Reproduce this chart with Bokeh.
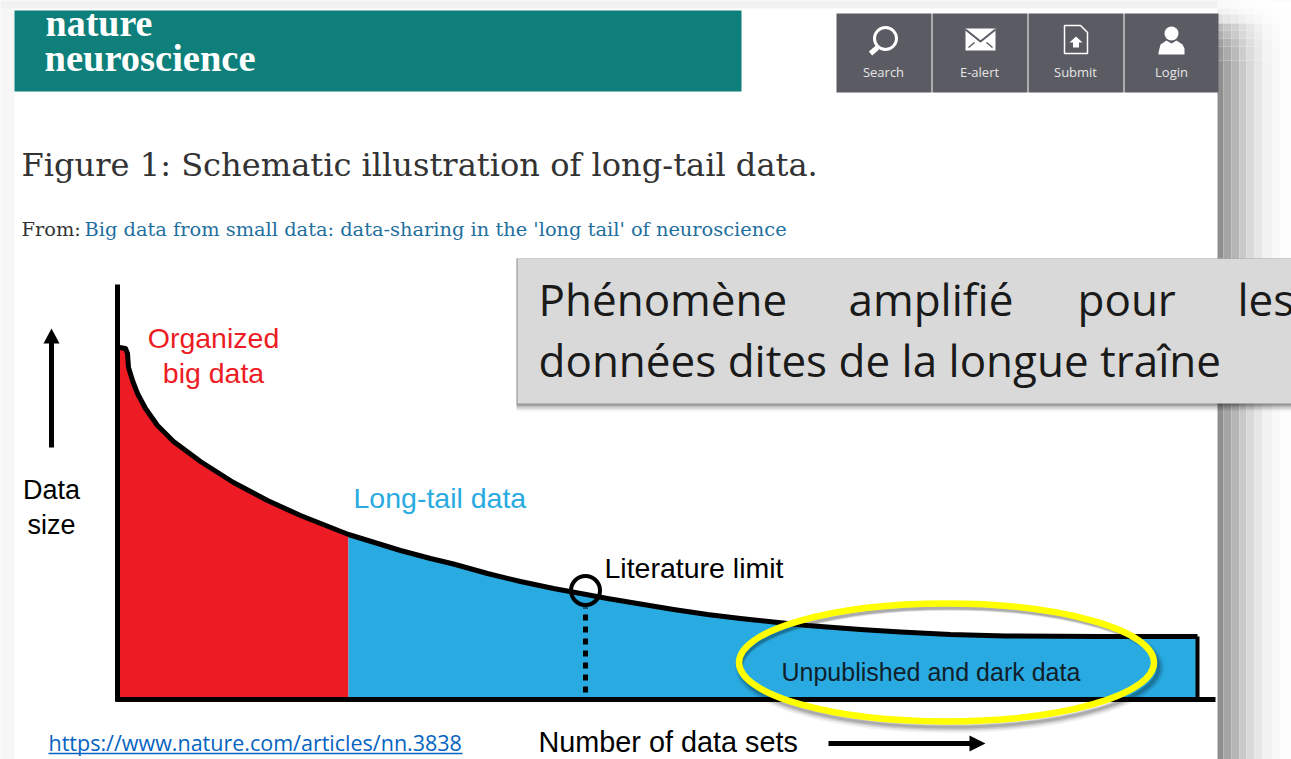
from bokeh.plotting import figure
from bokeh.models import Range1d
from bokeh.core.properties import value
from bokeh.embed import file_html
from bokeh.resources import INLINE

# Chart values: number of data sets (x) and data size (y)
curve_sets = [2, 8, 10, 11, 15, 20, 28, 40, 56, 83, 116, 150, 183, 231, 283, 313, 336, 370, 403, 436, 466, 490,
              523, 556, 590, 623, 656, 690, 723, 743, 783, 833, 888, 983, 1080]
curve_size = [352, 351, 346, 332, 319, 306, 291, 274, 258, 238, 217, 199, 184, 165, 149, 141, 135.5, 126, 118, 111,
              105.5, 101, 95.5, 90, 85, 81, 77.5, 74, 71.5, 70, 67.5, 65, 63.5, 63, 63]
organized_end = 231
axis_top = 415
axis_right = 1098
limit_at = 468

brand = ["nature", "neuroscience"]
nav_labels = ["Search", "E-alert", "Submit", "Login"]
figure_title = "Figure 1: Schematic illustration of long-tail data."
from_prefix = "From: "
from_link = "Big data from small data: data-sharing in the 'long tail' of neuroscience"
callout_words = ["Phénomène", "amplifié", "pour", "les"]
callout_line2 = "données dites de la longue traîne"
url = "https://www.nature.com/articles/nn.3838"

RED = "#ED1C24"
BLUE = "#29ABE2"
TEAL = "#0E7F7A"
NAV = "#5B5B63"

# screen position -> chart coordinates (origin is the chart's axis corner)
OX, OY = 117, 699
def X(v): return v - OX
def Y(v): return OY - v

p = figure(width=1291, height=759, output_backend="svg", toolbar_location=None,
           x_range=Range1d(0 - OX, 1291 - OX), y_range=Range1d(OY - 759, OY),
           min_border=0, outline_line_color=None, background_fill_color="#F6F6F6",
           border_fill_color=None)
p.grid.visible = False
p.xaxis.visible = False
p.yaxis.visible = False


def box(x0, x1, y0, y1, color, alpha=1.0):
    p.quad(left=[X(x0)], right=[X(x1)], top=[Y(y0)], bottom=[Y(y1)],
           fill_color=color, line_color=None, fill_alpha=alpha)


def poly(xs, ys, fill=None, line=None, lw=1):
    p.patch([X(v) for v in xs], [Y(v) for v in ys], fill_color=fill, line_color=line,
            line_width=lw, fill_alpha=1 if fill else 0)


def seg(xs, ys, color="black", lw=1, dash="solid", cap="butt"):
    p.line([X(v) for v in xs], [Y(v) for v in ys], line_color=color, line_width=lw,
           line_dash=dash, line_cap=cap)


def txt(x, y, s, size, color="black", font="Liberation Sans", style="normal", align="left"):
    p.text([X(x)], [Y(y - 0.38 * size)], text=[s], text_font=value(font), text_font_size=f"{size}px",
           text_color=color, text_font_style=style, text_align=align, text_baseline="alphabetic")


# page
box(0, 1291, 0, 8, "#F2F2F2")
box(14, 1218, 8, 759, "#FFFFFF")
box(1218, 1291, 0, 759, "#FFFFFF")
col_edges = [1217, 1223, 1231, 1239, 1246, 1254, 1262, 1272, 1280, 1291]
col_grey = [0x8F, 0xA5, 0xB5, 0xC9, 0xD9, 0xE6, 0xF2, 0xF8, 0xFD]
row_edges = [0, 8, 14, 23, 30, 38, 46, 60, 759]
row_fade = [0.05, 0.12, 0.28, 0.62, 0.72, 0.85, 0.93, 1.0]
for c in range(len(col_grey)):
    for r in range(len(row_fade)):
        g = round(255 - (255 - col_grey[c]) * row_fade[r])
        box(col_edges[c], col_edges[c + 1], row_edges[r], row_edges[r + 1], f"#{g:02X}{g:02X}{g:02X}")

# header
box(14, 741, 10, 91, TEAL)
txt(45, 37, brand[0], 38, "white", "Liberation Serif", "bold")
txt(44, 72, brand[1], 38.5, "white", "Liberation Serif", "bold")
for i, lab in enumerate(nav_labels):
    x0 = 836 + i * 96
    box(x0, x0 + 95 if i < 3 else 1218, 13, 92, NAV)
    txt(x0 + 47, 76, lab, 13, "#E6E6E6", "Open Sans", align="center")

# search icon
p.circle([X(885)], [Y(38)], radius=11, fill_color=None, line_color="white", line_width=3)
seg([877, 870], [47, 53], "white", 5)
# e-alert icon
box(965, 995, 28, 50, "white")
seg([965, 980, 995], [29, 41, 29], NAV, 2)
seg([968, 974], [47, 42], NAV, 1.5)
seg([992, 986], [47, 42], NAV, 1.5)
# submit icon
poly([1064, 1080, 1087, 1087, 1064], [25, 25, 32, 53, 53], None, "white", 1.5)
poly([1075.5, 1082, 1078.5, 1078.5, 1072.5, 1072.5, 1069], [36, 42, 42, 47, 47, 42, 42], "white", None)
# login icon
p.circle([X(1171)], [Y(33)], radius=7, fill_color="white", line_color=None)
poly([1158, 1160, 1166, 1171, 1176, 1182, 1184, 1184, 1158],
     [52, 44, 40, 43, 40, 44, 48, 54, 54], "white", None)

# headings
txt(21, 177, figure_title, 32.1, "#333333", "DejaVu Serif")
txt(21, 236, from_prefix, 19.4, "#333333", "DejaVu Serif")
txt(84, 236, from_link, 19.4, "#1F6F9F", "DejaVu Serif")

# chart fill
i_cut = curve_sets.index(organized_end)
p.varea(curve_sets[:i_cut + 1], [0] * (i_cut + 1), curve_size[:i_cut + 1], fill_color=RED)
p.varea(curve_sets[i_cut:], [0] * (len(curve_sets) - i_cut), curve_size[i_cut:], fill_color=BLUE)

# curve and axes
p.line(curve_sets, curve_size, line_color="black", line_width=5, line_join="round")
p.line([axis_right - 18, axis_right - 18], [curve_size[-1], 0], line_color="black", line_width=4)
p.line([0, 0], [-2, axis_top], line_color="black", line_width=5)
p.line([-2, axis_right], [0, 0], line_color="black", line_width=5)
p.line([limit_at, limit_at], [7, 92], line_color="black", line_width=5, line_dash="6 6")
p.circle([limit_at], [109], radius=14.5, fill_color=None, line_color="black", line_width=4)

# chart labels
txt(213, 348, "Organized", 28.5, RED, align="center")
txt(213, 383, "big data", 28.5, RED, align="center")
txt(353, 508, "Long-tail data", 28.5, BLUE)
txt(604, 578, "Literature limit", 28.5)
txt(781, 681, "Unpublished and dark data", 25, "#10202A")
txt(51, 500, "Data", 27, align="center")
txt(51, 535, "size", 27, align="center")
txt(538, 752, "Number of data sets", 28.8)
txt(48, 750, url, 21.5, "#0563C1", "Open Sans")
seg([48, 462], [753, 753], "#0563C1", 1.5)

# arrows
seg([51, 51], [447, 340], "black", 5)
poly([51, 43, 59], [328, 343, 343], "black")
seg([828, 972], [743, 743], "black", 5)
poly([985, 969, 969], [743, 735, 751], "black")

# callout
for i, a in enumerate([0.04, 0.06, 0.08, 0.1, 0.12, 0.14]):
    box(517 - 1, 1291, 258, 411 - i * 1.4, "#000000", a)
box(517, 1291, 258, 403, "#D9D9D9")
for x, w in zip([538, 848, 1077, 1237], callout_words):
    txt(x, 315, w, 44, "#1A1A1A", "Open Sans")
txt(538, 376, callout_line2, 44, "#1A1A1A", "Open Sans")

# yellow ellipse with soft shadow
for i, a in enumerate([0.05, 0.07, 0.1, 0.14]):
    p.ellipse([X(949)], [Y(667)], width=[421 - i], height=[122 - i], fill_color=None,
              line_color="#000000", line_alpha=a, line_width=9 - 2 * i)
p.ellipse([X(946)], [Y(662)], width=[415], height=[118], fill_color=None,
          line_color="#FFFF00", line_width=6.5)

open("out.html", "w").write(file_html(p, INLINE))
